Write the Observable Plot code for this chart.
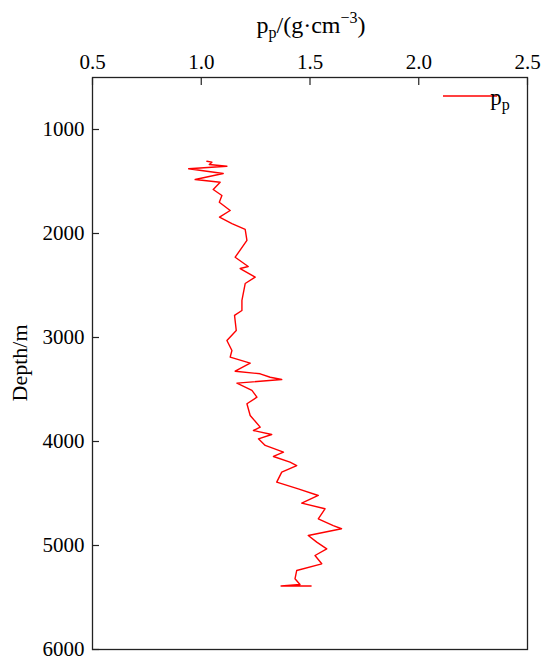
<!DOCTYPE html>
<html><head><meta charset="utf-8">
<script src="https://cdn.jsdelivr.net/npm/d3@7"></script>
<script src="https://cdn.jsdelivr.net/npm/@observablehq/plot@0.6"></script>
<style>body{margin:0;background:#fff}</style>
</head><body><div id="chart"></div>
<script>
// Depth profile (m) and pore pressure density p_p (g/cm^3)
const depth = [1305,1314,1337,1353,1378,1423,1481,1507,1577,1635,1699,1779,1843,1904,1961,2067,2228,2317,2337,2420,2481,2644,2740,2788,2933,3029,3125,3189,3247,3324,3349,3382,3404,3439,3509,3574,3637,3750,3862,3894,3933,3974,4038,4103,4144,4199,4231,4295,4391,4455,4519,4593,4647,4743,4808,4839,4904,4968,5032,5096,5176,5240,5320,5375,5389,5389];
const density = [1.026,1.049,1.037,1.118,0.942,1.101,0.972,1.087,1.055,1.095,1.083,1.133,1.084,1.141,1.202,1.210,1.156,1.216,1.179,1.248,1.202,1.187,1.187,1.153,1.161,1.118,1.141,1.133,1.225,1.156,1.271,1.317,1.370,1.164,1.233,1.256,1.210,1.225,1.271,1.240,1.324,1.263,1.294,1.378,1.332,1.408,1.439,1.370,1.347,1.446,1.538,1.462,1.569,1.538,1.607,1.645,1.492,1.531,1.577,1.523,1.554,1.439,1.431,1.454,1.367,1.505];
const xTicks = [0.5, 1.0, 1.5, 2.0, 2.5];
const yTicks = [1000, 2000, 3000, 4000, 5000, 6000];
const xDomain = [0.5, 2.5];
const yDomain = [500, 6000];

const data = depth.map((d, i) => ({depth: d, pp: density[i]}));
const font = "'Liberation Serif', 'Times New Roman', serif";

const chart = Plot.plot({
  width: 550, height: 670,
  marginLeft: 92, marginRight: 23, marginTop: 77, marginBottom: 21,
  style: {fontFamily: font, fontSize: "21px", background: "#fff", color: "#000", overflow: "visible"},
  x: {domain: xDomain},
  y: {domain: yDomain, reverse: true},
  marks: [
    Plot.axisX(xTicks, {anchor: "top", tickSize: 0, tickPadding: 9, tickFormat: d3.format(".1f"), label: null, fontSize: 21, fontFamily: font}),
    Plot.axisX(xTicks, {anchor: "top", tickSize: 7, fill: "none", dy: 7, label: null, stroke: "#222", strokeWidth: 1.2}),
    Plot.axisY(yTicks, {anchor: "left", tickSize: 0, tickPadding: 8, tickFormat: d3.format("d"), label: null, fontSize: 21, fontFamily: font}),
    Plot.axisY(yTicks, {anchor: "left", tickSize: 7, fill: "none", dx: 7, label: null, stroke: "#222", strokeWidth: 1.2}),
    Plot.line(data, {x: "pp", y: "depth", stroke: "#ff0000", strokeWidth: 1.4}),
    Plot.frame({stroke: "#222", strokeWidth: 1.3})
  ]
});

const svg = d3.select(chart).style("font-family", font);
// x-axis title with sub/superscripts
const t = svg.append("text").attr("x", 311).attr("y", 33).attr("text-anchor", "middle")
  .style("font-size", "24px").attr("fill", "#000");
t.append("tspan").text("p");
t.append("tspan").attr("dy", 5).style("font-size", "16px").text("p");
t.append("tspan").attr("dy", -5).text("/(g·cm");
t.append("tspan").attr("dy", -10).style("font-size", "16px").text("−3");
t.append("tspan").attr("dy", 10).text(")");

// y-axis title
svg.append("text").attr("transform", "translate(27,363) rotate(-90)").attr("text-anchor", "middle")
  .style("font-size", "22px").attr("fill", "#000").text("Depth/m");

// legend
svg.append("line").attr("x1", 443).attr("x2", 497).attr("y1", 96).attr("y2", 96)
  .attr("stroke", "#ff0000").attr("stroke-width", 1.4);
const lt = svg.append("text").attr("x", 500).attr("y", 105)
  .style("font-size", "23px").attr("fill", "#000");
lt.append("tspan").text("p");
lt.append("tspan").attr("dy", 5).style("font-size", "16px").text("p");

// force serif font on every text element (inline style wins over any stylesheet)
svg.selectAll("text, tspan").each(function() { this.style.fontFamily = font; });

document.getElementById("chart").appendChild(chart);
</script>
</body></html>
